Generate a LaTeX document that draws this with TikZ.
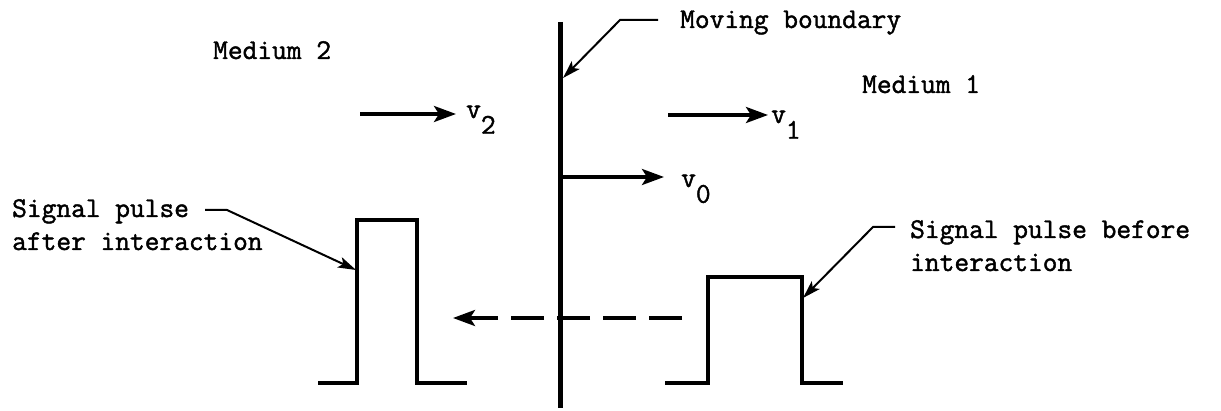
\documentclass[tikz,border=0pt]{standalone}
\usepackage{fontspec}
\setmainfont{Latin Modern Mono}[FakeBold=1.5]
\usetikzlibrary{arrows.meta}
\tikzset{
  lbl/.style={anchor=base west, inner sep=0pt, font=\fontsize{28.6}{34}\selectfont},
  thick arrow/.style={line width=3.5pt, -{Stealth[length=22pt,width=16pt,inset=5pt]}},
  lead/.style={line width=2pt, -{Stealth[length=18pt,width=11pt,inset=4pt]}},
  pulse/.style={line width=3.5pt, line join=miter},
  bound/.style={line width=5pt},
  dasharrow/.style={line width=3.5pt, dash pattern=on 33pt off 13pt, -{Stealth[length=22pt,width=16pt,inset=5pt]}}
}
\newcommand{\sub}[1]{\raisebox{-0.55em}{#1}}
\begin{document}
\begin{tikzpicture}[x=1pt,y=-1pt]
\useasboundingbox (0,0) rectangle (1221,411);
% boundary
\coordinate (bTop) at (560,22);
\coordinate (bBot) at (560,408);
\coordinate (bHit) at (563,78);
\coordinate (bV0) at (562,177);
\draw[bound] (bTop) -- (bBot);
% texts
\node[lbl] (mb) at (680,28) {Moving boundary};
\node[lbl] (m2) at (213,59) {Medium 2};
\node[lbl] (m1) at (862,93) {Medium 1};
\node[lbl] (v2) at (466,118) {v\sub{2}};
\node[lbl] (v1) at (771,123) {v\sub{1}};
\node[lbl] (v0) at (681,187) {v\sub{0}};
\node[lbl] (sa1) at (12,217) {Signal pulse};
\node[lbl] (sa2) at (12,250) {after interaction};
\node[lbl] (sb1) at (910,238) {Signal pulse before};
\node[lbl] (sb2) at (910,271) {interaction};
% velocity arrows
\coordinate (v2s) at (360,114);
\coordinate (v2e) at (456,114);
\coordinate (v1s) at (668,115);
\coordinate (v1e) at (768,115);
\coordinate (v0e) at (664,177);
\draw[thick arrow] (v2s) -- (v2e);
\draw[thick arrow] (v1s) -- (v1e);
\draw[thick arrow] (bV0) -- (v0e);
% pulses
\coordinate (L0) at (318,383);
\coordinate (L1) at (357,383);
\coordinate (L2) at (357,220);
\coordinate (L3) at (417,220);
\coordinate (L4) at (417,383);
\coordinate (L5) at (467,383);
\draw[pulse] (L0) -- (L1) -- (L2) -- (L3) -- (L4) -- (L5);
\coordinate (R0) at (665,383);
\coordinate (R1) at (708,383);
\coordinate (R2) at (708,277);
\coordinate (R3) at (802,277);
\coordinate (R4) at (802,383);
\coordinate (R5) at (843,383);
\draw[pulse] (R0) -- (R1) -- (R2) -- (R3) -- (R4) -- (R5);
% dashed travel arrow
\coordinate (ds) at (682,318);
\coordinate (de) at (453,318);
\draw[dasharrow] (ds) -- (de);
% leaders
\coordinate (mbA) at (658,20);
\coordinate (mbB) at (620,20);
\draw[lead] (mbA) -- (mbB) -- (bHit);
\coordinate (saA) at (205,210);
\coordinate (saB) at (227,210);
\coordinate (saT) at (356,270);
\draw[lead] (saA) -- (saB) -- (saT);
\coordinate (sbA) at (895,227);
\coordinate (sbB) at (873,227);
\coordinate (sbT) at (803,298);
\draw[lead] (sbA) -- (sbB) -- (sbT);
\end{tikzpicture}
\end{document}
